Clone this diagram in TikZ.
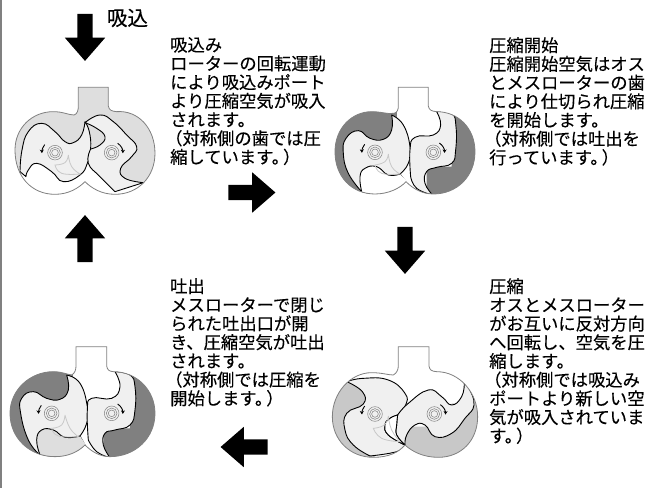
\documentclass[tikz,border=0pt]{standalone}
\usepackage{fontspec}
\usetikzlibrary{shapes.arrows,arrows.meta}
\newfontfamily\cjk[FakeBold=.25]{Noto Sans CJK JP}
\definecolor{rotorgray}{HTML}{F0F0F0}
\definecolor{palegray}{HTML}{DEDEDE}
\definecolor{midgray}{HTML}{C8C8C8}
\definecolor{darkgray}{HTML}{808080}
\tikzset{
  every plot/.style={smooth,tension=.8},
  rotor/.style={fill=rotorgray,draw=black,line width=.9pt,line join=round},
  casing/.style={draw=darkgray,line width=.8pt},
  spin/.style={draw=black,line width=.9pt,-{Stealth[length=3.5pt,width=4pt]}},
  bigarrow/.style={single arrow,fill=black,inner sep=7.5pt,minimum height=47pt,minimum width=40pt,
    single arrow head extend=12.5pt,single arrow tip angle=82},
  note/.style={anchor=north west,inner sep=0pt,align=left,
    font=\cjk\fontsize{17.3}{18.7}\selectfont},
}
\newcommand\shafts[4]{
  \foreach \r in {22,16,10} {
    \draw[darkgray,line width=.5pt] (#1,#2) circle (\r);
    \draw[darkgray,line width=.5pt] (#3,#4) circle (\r);
  }
  \draw[spin] (#1-31,#2-24) arc (218:178:39);
  \draw[spin] (#3+18,#4-28) arc (-57:2:34);
}
\begin{document}
\begin{tikzpicture}[x=1pt,y=-1pt]
\useasboundingbox (0,0) rectangle (654,488);
\fill[darkgray] (0,0) rectangle (2,488);

% suction
\begin{scope}[shift={(0,0)},scale=.3333]
  \path[save path=\casea] (235,262) -- (325,262) -- (325,318) .. controls (327,330) and (335,334) .. (350,335)
    .. controls (415,330) and (465,385) .. (465,460) .. controls (465,530) and (415,583) .. (345,583)
    .. controls (305,583) and (275,565) .. (255,545) .. controls (235,565) and (205,583) .. (165,583)
    .. controls (95,583) and (45,530) .. (45,450) .. controls (45,385) and (95,335) .. (160,335)
    .. controls (190,335) and (205,345) .. (222,345) .. controls (232,343) and (235,330) .. (235,318) -- cycle;
  \begin{scope}
    \fill[palegray,use path=\casea];
    \path[use path=\casea,clip];
    \fill[white] (40,600) -- (40,512) -- (100,480) -- (262,480) -- (345,575) -- (430,548) -- (480,520) -- (480,600) -- cycle;
    \path[rotor] plot coordinates {(60,515) (66,450) (85,395) (125,370) (165,395) (195,425) (220,428) (245,405) (255,365)}
      -- plot coordinates {(255,365) (268,395) (272,445) (262,490) (240,525) (190,545) (155,515) (110,490) (85,510) (78,530)} -- cycle;
    \path[rotor] plot coordinates {(255,368) (300,345) (340,365) (380,405) (410,440) (395,470) (362,505) (375,535) (430,548)}
      -- (345,575) -- plot coordinates {(345,575) (300,530) (265,490) (272,447)}
      -- plot coordinates {(272,447) (300,435) (315,410) (290,385) (255,368)} -- cycle;
  \end{scope}
  \draw[casing,use path=\casea];
  \shafts{165}{458}{335}{458}
  \draw[midgray,line width=.8pt] plot coordinates {(205,465) (195,488) (165,495)} -- plot coordinates {(165,495) (185,520) (240,522)}
    -- plot coordinates {(240,522) (215,500) (205,465)};
\end{scope}

% start of compression
\begin{scope}[shift={(320,70)},scale=.3333]
  \path[save path=\caseb] (235,52) -- (325,52) -- (325,108) .. controls (327,120) and (335,124) .. (350,125)
    .. controls (415,125) and (465,175) .. (465,245) .. controls (465,320) and (410,372) .. (340,372)
    .. controls (305,372) and (278,355) .. (258,335) .. controls (240,355) and (205,372) .. (165,372)
    .. controls (95,372) and (45,320) .. (45,245) .. controls (45,175) and (95,125) .. (155,125)
    .. controls (185,125) and (200,133) .. (222,130) .. controls (232,128) and (235,118) .. (235,108) -- cycle;
  \begin{scope}
    \fill[white,use path=\caseb];
    \path[use path=\caseb,clip];
    \fill[darkgray] (30,110) rectangle (230,380);
    \fill[darkgray] (395,110) rectangle (480,380) (320,290) rectangle (480,380);
    \path[rotor] plot coordinates {(215,135) (215,180) (190,208) (150,205) (115,182) (78,205) (70,250) (85,310) (125,365)}
      -- (200,380) -- (258,335) -- plot coordinates {(240,312) (265,280) (270,230) (250,165) (215,135)} -- cycle;
    \fill[white] (125,380) -- plot coordinates {(125,365) (120,320) (135,295) (170,290) (205,315) (240,312)} -- (262,335) -- (230,380) -- cycle;
    \draw[line width=.9pt] plot coordinates {(125,365) (120,320) (135,295) (170,290) (205,315) (240,312)};
    \path[rotor] plot coordinates {(272,320) (270,240) (285,202) (340,195) (362,165) (350,125)}
      -- plot coordinates {(350,125) (395,130) (408,170) (407,240) (395,280) (350,292) (320,305) (315,340) (338,375)}
      -- plot coordinates {(338,375) (290,355) (272,320)} -- cycle;
  \end{scope}
  \draw[casing,use path=\caseb];
  \shafts{165}{247}{340}{247}
  \draw[midgray,line width=.8pt] plot coordinates {(205,252) (195,275) (165,285)} -- plot coordinates {(165,285) (185,310) (240,312)}
    -- plot coordinates {(240,312) (215,290) (205,252)};
\end{scope}

% discharge
\begin{scope}[shift={(0,330)},scale=.3333]
  \path[save path=\casec] (228,50) -- (320,50) -- (320,108) .. controls (322,120) and (328,124) .. (340,125)
    .. controls (410,125) and (465,180) .. (465,250) .. controls (465,325) and (405,380) .. (330,380)
    .. controls (300,380) and (275,365) .. (255,345) .. controls (235,365) and (205,380) .. (165,380)
    .. controls (90,380) and (30,325) .. (30,250) .. controls (30,180) and (90,125) .. (160,125)
    .. controls (185,125) and (200,133) .. (215,135) .. controls (225,130) and (228,118) .. (228,108) -- cycle;
  \begin{scope}
    \fill[white,use path=\casec];
    \path[use path=\casec,clip];
    \fill[darkgray] (20,110) rectangle (220,390);
    \fill[darkgray] (390,110) rectangle (480,390) (310,295) rectangle (480,390);
    \path[rotor] plot coordinates {(200,135) (205,180) (180,208) (140,205) (100,185) (65,205) (62,250) (85,330) (120,375)}
      -- (200,390) -- (255,345) -- plot coordinates {(240,318) (260,280) (262,230) (240,160) (200,135)} -- cycle;
    \fill[palegray] (120,390) -- plot coordinates {(120,375) (110,330) (125,300) (160,300) (195,322) (240,318)} -- (258,345) -- (230,390) -- cycle;
    \draw[line width=.9pt] plot coordinates {(120,375) (110,330) (125,300) (160,300) (195,322) (240,318)};
    \path[rotor] plot coordinates {(265,330) (262,240) (275,205) (335,205) (360,170) (345,125)}
      -- plot coordinates {(345,125) (390,135) (405,170) (405,240) (390,285) (345,300) (315,310) (310,345) (330,383)}
      -- plot coordinates {(330,383) (290,365) (265,330)} -- cycle;
  \end{scope}
  \draw[casing,use path=\casec];
  \shafts{155}{250}{335}{250}
  \draw[midgray,line width=.8pt] plot coordinates {(195,255) (185,285) (155,295)} -- plot coordinates {(155,295) (175,318) (235,320)}
    -- plot coordinates {(235,320) (210,295) (195,255)};
\end{scope}

% compression
\begin{scope}[shift={(325,330)},scale=.3333]
  \path[save path=\cased] (220,50) -- (312,50) -- (312,108) .. controls (314,120) and (320,124) .. (335,125)
    .. controls (405,125) and (458,190) .. (458,260) .. controls (458,330) and (410,382) .. (340,382)
    .. controls (295,382) and (262,365) .. (240,345) .. controls (220,368) and (190,382) .. (145,382)
    .. controls (75,382) and (22,330) .. (22,260) .. controls (22,190) and (75,128) .. (140,128)
    .. controls (170,128) and (190,135) .. (205,135) .. controls (215,130) and (220,118) .. (220,108) -- cycle;
  \begin{scope}
    \fill[white,use path=\cased];
    \path[use path=\cased,clip];
    \fill[midgray] (10,150) rectangle (120,390) (100,350) rectangle (240,390);
    \fill[midgray] (230,290) rectangle (470,390) (380,220) rectangle (470,390);
    \fill[white] (150,370) -- (225,366) -- (240,350) -- (250,390) -- (150,390) -- cycle;
    \path[rotor] plot coordinates {(65,155) (115,145) (190,150) (240,190) (242,225) (218,255)}
      -- plot coordinates {(218,255) (195,265) (180,285) (190,315) (240,345)}
      -- plot coordinates {(240,345) (215,365) (135,378)}
      -- plot coordinates {(135,378) (85,345) (60,300) (65,250) (115,222) (112,185) (65,155)} -- cycle;
    \path[rotor] plot coordinates {(218,255) (250,220) (310,180) (350,200) (380,225) (410,200) (418,160)}
      -- plot coordinates {(418,160) (432,175) (447,225) (420,265) (380,310) (330,320) (300,285) (270,285) (245,315) (240,345)}
      -- plot coordinates {(240,345) (215,315) (215,285) (218,255)} -- cycle;
    \fill[white] plot coordinates {(218,255) (195,265) (180,285) (190,315) (240,345)} -- plot coordinates {(240,345) (215,315) (215,285) (218,255)} -- cycle;
    \draw[line width=.9pt] plot coordinates {(240,345) (215,315) (215,285) (218,255)};
    \draw[line width=.9pt] plot coordinates {(218,255) (195,265) (180,285) (190,315) (240,345)};
  \end{scope}
  \draw[casing,use path=\cased];
  \shafts{150}{252}{328}{252}
  \draw[midgray,line width=.8pt] plot coordinates {(190,258) (178,285) (145,295)} -- plot coordinates {(145,295) (170,325) (225,335)}
    -- plot coordinates {(225,335) (200,300) (190,258)};
\end{scope}

\node[bigarrow,shape border rotate=270] (arrowin) at (85,33) {};
\node[bigarrow,shape border rotate=0] (arrowright) at (247.5,192.5) {};
\node[bigarrow,shape border rotate=270] (arrowdown) at (405,246) {};
\node[bigarrow,shape border rotate=180] (arrowleft) at (248.5,447) {};
\node[bigarrow,shape border rotate=90] (arrowup) at (85,243) {};

\node[font=\cjk\fontsize{20.5}{22}\selectfont,inner sep=0pt] (suctionlabel) at (127.5,18) {吸込};

\node[note] (notesuction) at (170,37) {吸込み\\ローターの回転運動\\により吸込みポート\\より圧縮空気が吸入\\されます。\\\hspace*{-5pt}（対称側の歯では圧\\縮しています。\kern-6pt）};
\node[note] (notestart) at (489,37) {圧縮開始\\圧縮開始空気はオス\\とメスローターの歯\\により仕切られ圧縮\\を開始します。\\\hspace*{-5pt}（対称側では吐出を\\行っています。\kern-6pt）};
\node[note] (notedischarge) at (170,278) {吐出\\メスローターで閉じ\\られた吐出口が開\\き、圧縮空気が吐出\\されます。\\\hspace*{-5pt}（対称側では圧縮を\\開始します。\kern-6pt）};
\node[note] (notecompress) at (489,278) {圧縮\\オスとメスローター\\がお互いに反対方向\\へ回転し、空気を圧\\縮します。\\\hspace*{-5pt}（対称側では吸込み\\ポートより新しい空\\気が吸入されていま\\す。\kern-6pt）};
\end{tikzpicture}
\end{document}
